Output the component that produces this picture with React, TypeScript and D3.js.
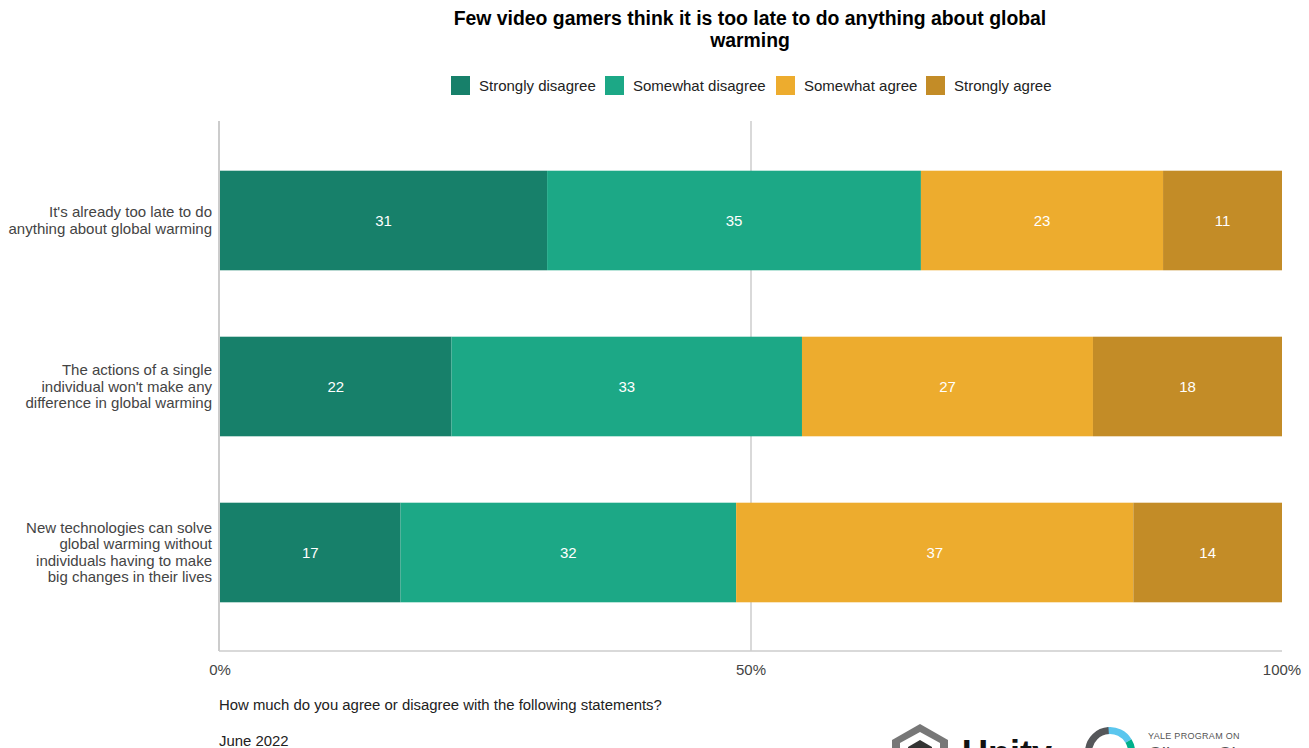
import React from "react";
import * as d3 from "d3";

const title = ["Few video gamers think it is too late to do anything about global", "warming"];
const series = ["Strongly disagree", "Somewhat disagree", "Somewhat agree", "Strongly agree"];
const colors = ["#17806a", "#1ca886", "#edac2e", "#c38c27"];
const statements = [
  ["It's already too late to do", "anything about global warming"],
  ["The actions of a single", "individual won't make any", "difference in global warming"],
  ["New technologies can solve", "global warming without", "individuals having to make", "big changes in their lives"],
];
const stronglyDisagree = [30.8, 21.8, 17.0];
const somewhatDisagree = [35.2, 33.0, 31.6];
const somewhatAgree = [22.8, 27.4, 37.4];
const stronglyAgree = [11.2, 17.8, 14.0];
const labels = [
  [31, 35, 23, 11],
  [22, 33, 27, 18],
  [17, 32, 37, 14],
];
const xTicks = [0, 50, 100];
const subtitle = "How much do you agree or disagree with the following statements?";
const dateText = "June 2022";

const W = 1309;
const H = 748;
const FONT = "Liberation Sans, Arial, sans-serif";

export default function App() {
  const x = d3.scaleLinear().domain([0, 100]).range([220, 1282]);
  const y = d3
    .scaleBand<number>()
    .domain([0, 1, 2])
    .range([137.5, 635.5])
    .paddingInner(0.4)
    .paddingOuter(0.2);
  const rows = statements.map((_, i) => ({
    i,
    v: [stronglyDisagree[i], somewhatDisagree[i], somewhatAgree[i], stronglyAgree[i]],
  }));
  const stack = d3
    .stack<{ i: number; v: number[] }, number>()
    .keys([0, 1, 2, 3])
    .value((d, k) => d.v[k]);
  const stacked = stack(rows);
  const axisTop = 121;
  const axisBottom = 651;

  const legendX = [451, 605, 776, 926];

  const arc = d3.arc();
  const ringC = { x: 1110, y: 752 };
  const ringSegs = [
    { s: -Math.PI * 2 * 0.02, e: Math.PI * 0.33, c: "#5bc6ee" },
    { s: Math.PI * 0.33, e: Math.PI * 0.62, c: "#00b08c" },
    { s: Math.PI * 0.62, e: Math.PI * 1.98, c: "#55575a" },
  ];

  return (
    <svg width={W} height={H} style={{ position: "absolute", left: 0, top: 0, background: "#fff" }}>
      <rect width={W} height={H} fill="#fff" />
      {title.map((t, i) => (
        <text key={i} x={750} y={25 + i * 22} textAnchor="middle" fontFamily={FONT} fontWeight="bold" fontSize={19.4} fill="#000">
          {t}
        </text>
      ))}
      {series.map((s, i) => (
        <g key={s}>
          <rect x={legendX[i]} y={76} width={19} height={19} fill={colors[i]} />
          <text x={legendX[i] + 28} y={91} fontFamily={FONT} fontSize={15} fill="#222">
            {s}
          </text>
        </g>
      ))}
      <line x1={x(50)} x2={x(50)} y1={axisTop} y2={axisBottom} stroke="#cccccc" strokeWidth={1.5} />
      {stacked.map((layer, k) =>
        layer.map((d, i) => (
          <rect
            key={`${k}-${i}`}
            x={x(d[0])}
            y={y(i)!}
            width={x(d[1]) - x(d[0])}
            height={y.bandwidth()}
            fill={colors[k]}
          />
        ))
      )}
      {stacked.map((layer, k) =>
        layer.map((d, i) => (
          <text
            key={`t${k}-${i}`}
            x={(x(d[0]) + x(d[1])) / 2}
            y={y(i)! + y.bandwidth() / 2 + 5}
            textAnchor="middle"
            fontFamily={FONT}
            fontSize={15}
            fill="#fff"
          >
            {labels[i][k]}
          </text>
        ))
      )}
      <line x1={219} x2={219} y1={axisTop} y2={axisBottom} stroke="#cccccc" strokeWidth={2} />
      <line x1={219} x2={1282} y1={axisBottom} y2={axisBottom} stroke="#cccccc" strokeWidth={1.5} />
      {xTicks.map((t) => (
        <text key={t} x={x(t)} y={675} textAnchor="middle" fontFamily={FONT} fontSize={15} fill="#444">
          {t}%
        </text>
      ))}
      {statements.map((lines, i) => {
        const cy = y(i)! + y.bandwidth() / 2;
        const lh = 16.5;
        const start = cy - ((lines.length - 1) * lh) / 2 + 5;
        return lines.map((l, j) => (
          <text key={`${i}-${j}`} x={212} y={start + j * lh} textAnchor="end" fontFamily={FONT} fontSize={15} fill="#444">
            {l}
          </text>
        ));
      })}
      <text x={219} y={710} fontFamily={FONT} fontSize={14.9} fill="#222">
        {subtitle}
      </text>
      <text x={219} y={746} fontFamily={FONT} fontSize={14.9} fill="#222">
        {dateText}
      </text>
      <g>
        <polygon points="920,724 948,740 948,770 920,786 892,770 892,740" fill="#777" />
        <polygon points="920,732 940,743 940,766 920,778 900,766 900,743" fill="#fff" />
        <polygon points="920,740 932,747 932,762 920,769 908,762 908,747" fill="#333" />
        <text x={962} y={766} fontFamily={FONT} fontWeight="bold" fontSize={36} fill="#111">
          Unity
        </text>
      </g>
      <g transform={`translate(${ringC.x},${ringC.y})`}>
        {ringSegs.map((s, i) => (
          <path
            key={i}
            d={arc({ innerRadius: 18, outerRadius: 25, startAngle: s.s, endAngle: s.e }) || ""}
            fill={s.c}
          />
        ))}
      </g>
      <text x={1148} y={739} fontFamily={FONT} fontSize={9} fill="#555" letterSpacing={0.3}>
        YALE PROGRAM ON
      </text>
      <text x={1148} y={760} fontFamily={FONT} fontSize={19} fill="#555">
        Climate Change
      </text>
    </svg>
  );
}
